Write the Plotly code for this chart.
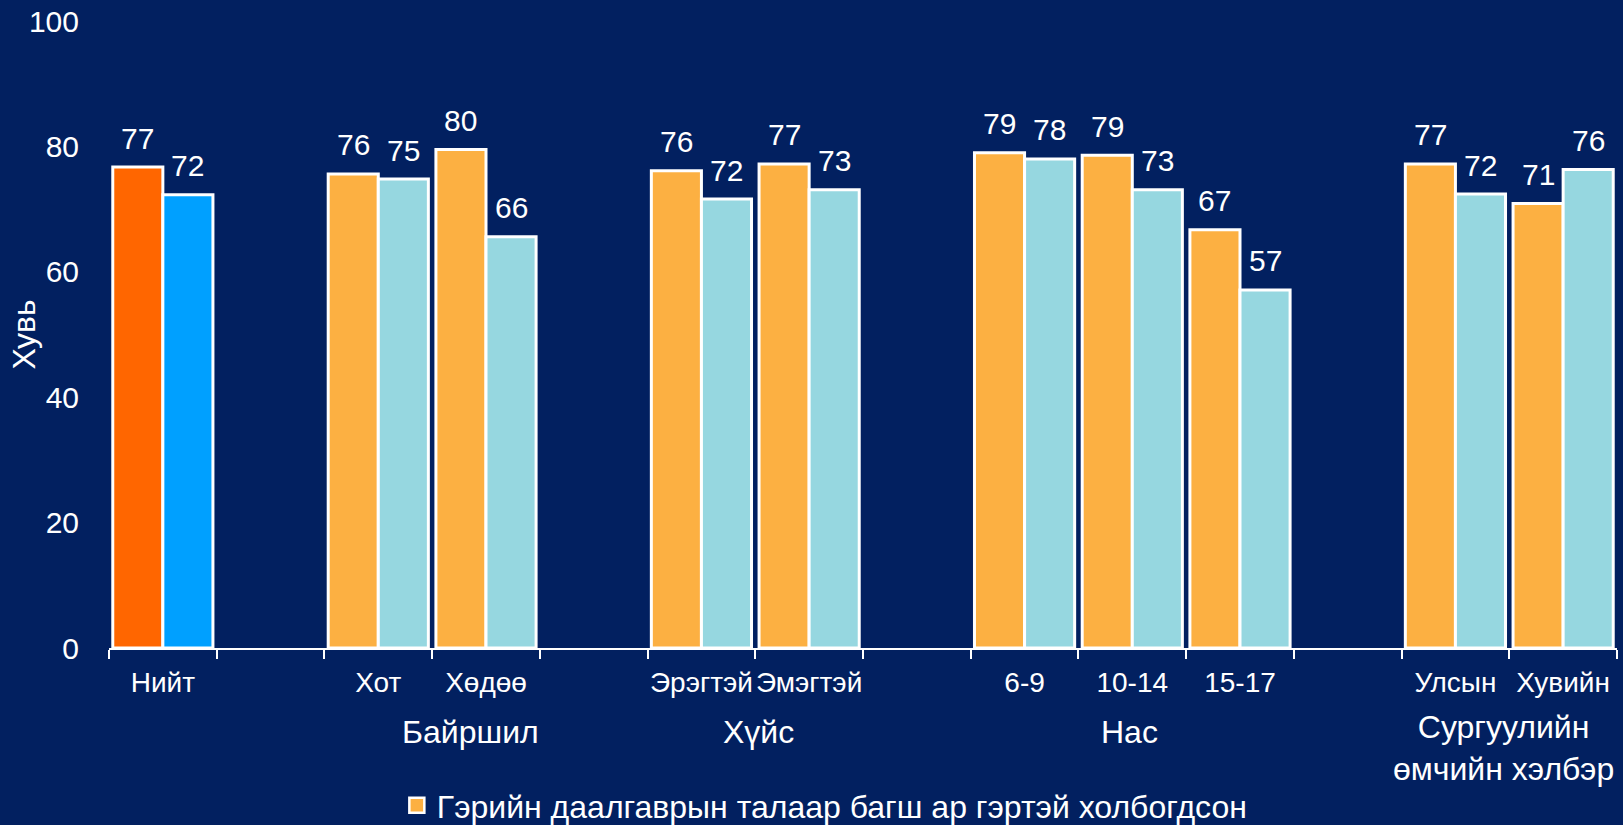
import plotly.graph_objects as go

# ---- data ----
slots = ["Нийт", " ", "Хот", "Хөдөө", "  ", "Эрэгтэй", "Эмэгтэй", "   ",
         "6-9", "10-14", "15-17", "    ", "Улсын", "Хувийн"]
total_cat = ["Нийт"]
total_teacher = [76.7]
total_other = [72.3]
cats = ["Хот", "Хөдөө", "Эрэгтэй", "Эмэгтэй", "6-9", "10-14", "15-17", "Улсын", "Хувийн"]
teacher = [75.6, 79.5, 76.1, 77.2, 79.0, 78.6, 66.7, 77.2, 70.9]
other = [74.8, 65.6, 71.6, 73.1, 78.0, 73.1, 57.1, 72.4, 76.3]
groups = ["Байршил", "Хүйс", "Нас", "Сургуулийн<br>өмчийн хэлбэр"]
group_pos = [2.86, 5.53, 8.97, 12.45]
legend_name = "Гэрийн даалгаврын талаар багш ар гэртэй холбогдсон"

BG = "#022060"
W = 0.465
FONT = "Liberation Sans, Arial, sans-serif"
ORANGE = "#FCB042"

fig = go.Figure()

def add_bars(x, y, color, offset, name):
    fig.add_trace(go.Bar(
        x=x, y=y, width=W, offset=offset, name=name, showlegend=False,
        marker=dict(color=color, line=dict(color="white", width=3)),
    ))

add_bars(cats, teacher, ORANGE, -W, legend_name)
add_bars(cats, other, "#96D7E0", 0, "other")
add_bars(total_cat, total_teacher, "#FF6600", -W, "total1")
add_bars(total_cat, total_other, "#00A0FF", 0, "total2")

# legend entry for the first series (square marker like the original)
fig.add_trace(go.Scatter(
    x=[None], y=[None], mode="markers", name=legend_name, showlegend=True,
    marker=dict(symbol="square", size=15, color=ORANGE, line=dict(color="white", width=2.5)),
))

annotations = []
idx = {c: i for i, c in enumerate(slots)}
for cs, t, o in [(cats, teacher, other), (total_cat, total_teacher, total_other)]:
    for c, a, b in zip(cs, t, o):
        for val, dx in [(a, -W / 2), (b, W / 2)]:
            annotations.append(dict(
                x=idx[c] + dx, y=val, xref="x", yref="y", text=f"{val:.0f}",
                showarrow=False, yanchor="middle", yshift=29,
                font=dict(color="white", size=30, family=FONT)))

for g, p in zip(groups, group_pos):
    two = "<br>" in g
    annotations.append(dict(
        x=p, y=-0.159 if two else -0.134, xref="x", yref="paper", text=g,
        showarrow=False, xanchor="center", yanchor="middle",
        font=dict(color="white", size=32, family=FONT)))

annotations.append(dict(
    x=-0.057, y=0.5, xref="paper", yref="paper", text="Хувь", textangle=-90,
    showarrow=False, xanchor="center", yanchor="middle",
    font=dict(color="white", size=32, family=FONT)))

fig.update_layout(
    width=1623, height=825,
    paper_bgcolor=BG, plot_bgcolor=BG,
    margin=dict(l=109, r=6, t=21, b=177, autoexpand=False),
    barmode="overlay",
    showlegend=True,
    legend=dict(orientation="h", x=0.4747, xanchor="center", y=-0.251, yanchor="middle",
                font=dict(color="white", size=32, family=FONT),
                bgcolor="rgba(0,0,0,0)", itemwidth=30),
    xaxis=dict(type="category", categoryorder="array", categoryarray=slots,
               range=[-0.5, 13.5], tickson="boundaries", ticks="outside", ticklen=9,
               tickcolor="white", tickwidth=1.5, showline=True, linecolor="white",
               linewidth=1.5, showgrid=False, zeroline=False, ticklabelstandoff=9,
               tickangle=0, automargin=False,
               tickfont=dict(color="white", size=28, family=FONT)),
    yaxis=dict(range=[0, 100], dtick=20, showgrid=False, zeroline=False, showline=False,
               ticks="", ticklabelstandoff=29, automargin=False,
               tickfont=dict(color="white", size=30, family=FONT)),
    annotations=annotations,
    font=dict(family=FONT, color="white"),
)

fig.write_html(
    "out.html",
    config={"displayModeBar": False},
    post_script=("document.body.style.margin='0';document.body.style.padding='0';"
                 "document.body.style.background='" + BG + "';"
                 "document.documentElement.style.overflow='hidden';"),
)
